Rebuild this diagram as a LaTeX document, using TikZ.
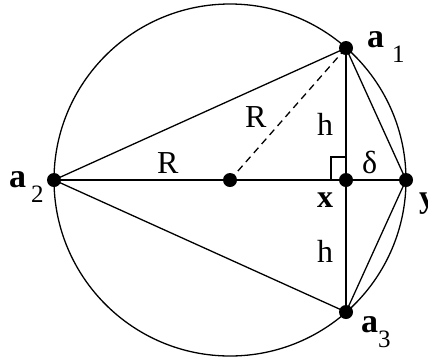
\documentclass[tikz,border=0pt]{standalone}
\usepackage{fontspec}
\setmainfont{Liberation Serif}
\usetikzlibrary{positioning}
\newcommand{\ptname}[3]{{\fontsize{34}{36}\selectfont\textbf{#1}}\hspace{#3}\raisebox{-15pt}{\fontsize{25}{25}\selectfont #2}}

\begin{document}
\begin{tikzpicture}[x=1pt,y=-1pt,
 edge/.style={line width=1.3pt,draw=black},
 radius line/.style={edge,dashed,dash pattern=on 7pt off 5pt},
 dot/.style={circle,fill=black,inner sep=0pt,minimum size=14pt},
 lbl/.style={inner sep=0pt,anchor=base west,font=\fontsize{32}{36}\selectfont}]
\useasboundingbox (0,0) rectangle (428,360);
% points of the figure
\coordinate (c) at (230,180);
\node[dot] (center) at (c) {};
\node[dot] (a1) at (346,48) {};
\node[dot] (a2) at (54,180) {};
\node[dot] (a3) at (346,312) {};
\node[dot] (x) at (346,180) {};
\node[dot] (y) at (406,180) {};
\draw[edge] (c) circle[radius=176];
% chords
\draw[edge] (a2.center)--(a1.center);
\draw[edge] (a2.center)--(a3.center);
\draw[edge] (a2.center)--(y.center);
\draw[edge] (a1.center)--(a3.center);
\draw[edge] (a1.center)--(y.center);
\draw[edge] (y.center)--(a3.center);
\draw[radius line] (center.center)--(a1.center);
% right angle mark
\draw[edge] (x.center) ++(-15,0) |- ++(15,-23);
% labels
\node[lbl] (la1) at (367,47) {\ptname{a}{1}{8pt}};
\node[lbl] (la2) at (9,187) {\ptname{a}{2}{5pt}};
\node[lbl] (la3) at (361,332) {\ptname{a}{3}{0pt}};
\node[lbl] (lx) at (317,207) {\textbf{x}};
\node[lbl] (ly) at (419,207) {\textbf{y}};
\node[lbl] (ldelta) at (362,173) {δ};
\node[lbl] (lR1) at (157,173) {R};
\node[lbl] (lR2) at (245,127) {R};
\node[lbl] (lh1) at (317,135) {h};
\node[lbl] (lh2) at (317,262) {h};
\end{tikzpicture}
\end{document}
